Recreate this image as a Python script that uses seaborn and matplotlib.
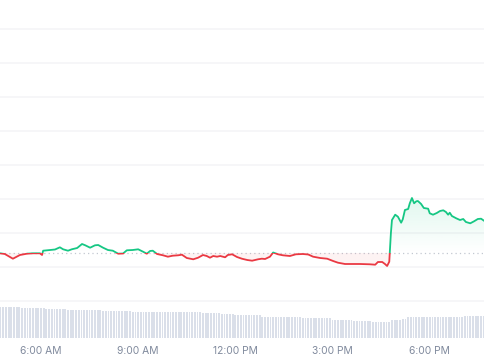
import numpy as np
import pandas as pd
import matplotlib
matplotlib.use("Agg")
import matplotlib.pyplot as plt
import seaborn as sns
from matplotlib.patches import Rectangle
from matplotlib.path import Path

# ---- data (time in minutes since midnight, price in chart units) ----
times = [284, 293, 308, 321, 334, 345, 358, 362, 364, 377,
         386, 395, 401, 410, 417, 427, 436, 442, 451, 460,
         466, 475, 484, 493, 503, 512, 519, 530, 540, 549,
         556, 562, 567, 575, 586, 595, 604, 614, 621, 630,
         642, 651, 660, 667, 673, 679, 686, 692, 701, 706,
         714, 723, 732, 742, 751, 762, 769, 775, 784, 790,
         799, 808, 821, 832, 845, 855, 864, 877, 890, 901,
         910, 923, 932, 951, 969, 979, 984, 992, 997, 1001,
         1005, 1008, 1010, 1016, 1021, 1027, 1030, 1034, 1040, 1043,
         1047, 1051, 1055, 1058, 1064, 1069, 1077, 1080, 1086, 1093,
         1099, 1105, 1110, 1114, 1117, 1121, 1129, 1136, 1142, 1147,
         1155, 1162, 1169, 1175, 1182]
price = [96.7, 96.0, 91.3, 95.0, 96.3, 96.7, 96.7, 95.0, 99.3, 100.0,
         100.5, 102.7, 100.7, 99.3, 100.7, 102.0, 106.0, 104.7, 102.3, 104.7,
         105.0, 102.3, 100.0, 99.3, 96.3, 96.5, 99.7, 100.0, 100.7, 98.3,
         96.3, 99.0, 99.3, 96.0, 94.7, 93.3, 94.3, 94.7, 95.3, 92.0,
         90.7, 92.3, 95.0, 94.0, 92.3, 94.0, 93.3, 94.0, 92.7, 95.0,
         95.7, 93.0, 91.3, 90.0, 89.3, 90.7, 91.3, 91.0, 93.3, 97.5,
         95.7, 94.7, 94.0, 95.7, 96.0, 95.5, 93.3, 92.0, 91.3, 89.0,
         87.3, 86.0, 86.0, 86.0, 85.7, 85.3, 88.0, 88.0, 86.0, 84.0,
         88.3, 116.7, 130.0, 135.3, 133.3, 127.3, 130.7, 140.0, 141.0, 146.7,
         152.0, 146.7, 148.7, 149.0, 146.0, 142.0, 141.3, 136.7, 135.3, 137.0,
         139.0, 139.7, 138.0, 135.3, 137.3, 134.0, 131.7, 130.0, 131.0, 128.0,
         126.7, 128.7, 131.0, 131.3, 128.7]
open_price = 97.0

volume = [31, 31, 31, 31, 31, 31, 31, 31, 30, 30, 30, 30,
          30, 30, 30, 30, 30, 29, 29, 29, 29, 29, 29, 29,
          29, 28, 28, 28, 28, 28, 28, 28, 28, 28, 28, 28,
          28, 28, 27, 27, 27, 27, 27, 27, 27, 27, 27, 27,
          27, 26, 26, 26, 26, 26, 26, 26, 26, 26, 26, 26,
          26, 26, 26, 26, 26, 26, 26, 26, 26, 26, 26, 26,
          26, 26, 26, 25, 25, 25, 25, 25, 25, 25, 24, 24,
          24, 24, 24, 23, 23, 23, 23, 23, 23, 23, 23, 23,
          23, 21, 21, 21, 21, 21, 21, 21, 21, 21, 21, 21,
          21, 21, 21, 21, 20, 20, 20, 20, 20, 20, 20, 20,
          20, 20, 20, 18, 18, 18, 18, 18, 18, 18, 18, 17,
          17, 17, 17, 17, 17, 17, 16, 16, 16, 16, 16, 16,
          16, 18, 18, 18, 18, 19, 19, 21, 21, 21, 21, 21,
          21, 21, 21, 21, 21, 21, 21, 21, 21, 21, 21, 21,
          21, 21, 21, 21, 22, 22, 22, 22, 22, 22, 22, 22]
vol_start, vol_step = 285, 5

tick_pos = [360, 540, 720, 900, 1080]
tick_labels = ["6:00 AM", "9:00 AM", "12:00 PM", "3:00 PM", "6:00 PM"]
grid_levels = [321, 287, 253, 219, 185, 151, 117, 83, 49]

GREEN = "#16c784"
RED = "#ea3943"
VOLC = "#dadfe9"
XMIN, XMAX = 284.1, 1182.3
YMIN, YMAX = 12, 350

sns.set_style("white")
plt.rcParams["font.family"] = ["Inter", "DejaVu Sans"]

fig = plt.figure(figsize=(4.85, 3.6), dpi=100)
ax = fig.add_axes([0, 22 / 360, 1, 338 / 360])

for g in grid_levels:
    ax.axhline(g, color="#f4f4f6", lw=1.1, zorder=0)
ax.axhline(open_price, color="#c3c8d1", lw=0.9, ls=(0, (1, 2.5)), zorder=1)

t = np.array(times, dtype=float)
p = np.array(price)

# gradient fill above the open price (green)
poly_g = ax.fill_between(t, p, open_price, where=p >= open_price, interpolate=True,
                         color="none", lw=0)
grad = np.zeros((256, 1, 4))
grad[..., 0:3] = matplotlib.colors.to_rgb(GREEN)
grad[:, 0, 3] = np.linspace(0.13, 0.0, 256)
im = ax.imshow(grad, extent=[XMIN, XMAX, open_price, max(price)], aspect="auto",
               origin="upper", zorder=2, interpolation="bilinear")
cp = Path.make_compound_path(*poly_g.get_paths())
im.set_clip_path(cp, transform=ax.transData)

# faint fill below the open price (red)
ax.fill_between(t, p, open_price, where=p <= open_price, interpolate=True,
                color=RED, alpha=0.06, lw=0, zorder=2)

df = pd.DataFrame({"time": t, "price": p})
sns.lineplot(data=df, x="time", y="price", ax=ax, color=GREEN, lw=1.3, zorder=4)
gl = ax.lines[-1]
gl.set_clip_path(Rectangle((XMIN - 10, open_price), XMAX - XMIN + 20, 1000,
                           transform=ax.transData))
sns.lineplot(data=df, x="time", y="price", ax=ax, color=RED, lw=1.3, zorder=4)
rl = ax.lines[-1]
rl.set_clip_path(Rectangle((XMIN - 10, open_price - 1000), XMAX - XMIN + 20, 1000,
                           transform=ax.transData))

# volume bars
ax2 = ax.twinx()
vt = [vol_start + vol_step * i for i in range(len(volume))]
sns.barplot(x=vt, y=volume, native_scale=True, ax=ax2, color=VOLC,
            width=0.68, saturation=1, linewidth=0)
ax2.set_ylim(0, 338)
ax2.set_yticks([])
ax2.set_ylabel("")
ax2.set_xlabel("")
for s in ax2.spines.values():
    s.set_visible(False)

ax.set_xlim(XMIN, XMAX)
ax2.set_xlim(XMIN, XMAX)
ax.set_ylim(YMIN, YMAX)
ax.set_yticks([])
ax.set_xticks(tick_pos)
ax.set_xticklabels(tick_labels)
ax.tick_params(axis="x", length=0, pad=5.5, labelsize=7.4, labelcolor="#808a9d")
ax.set_xlabel("")
ax.set_ylabel("")
for s in ax.spines.values():
    s.set_visible(False)

fig.savefig("out.png", dpi=100)
